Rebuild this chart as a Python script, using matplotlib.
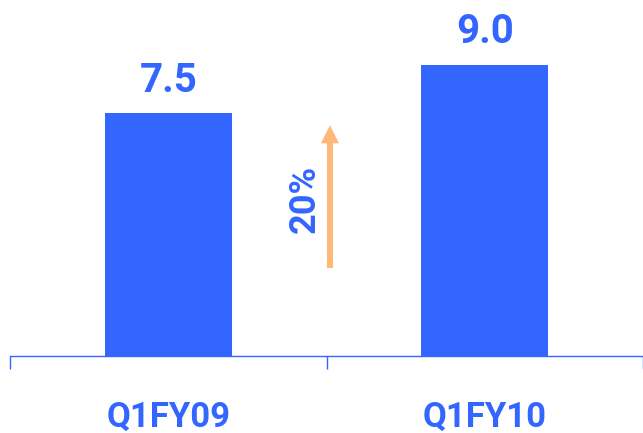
import matplotlib.pyplot as plt

quarters = ["Q1FY09", "Q1FY10"]
revenue = [7.5, 9.0]
growth_label = "20%"

blue = "#3366FF"
orange = "#FFB877"
font = "Roboto"

fig = plt.figure(figsize=(6.43, 4.33), dpi=100)
ax = fig.add_axes([10 / 643, 77 / 433, 633 / 643, 356 / 433])

x = range(len(quarters))
ax.bar(x, revenue, width=0.40, color=blue)

for i, v in zip(x, revenue):
    ax.text(i, v + 0.67, f"{v:.1f}", ha="center", va="baseline",
            fontsize=29, fontweight="bold", color=blue, family=font)

# category labels under the axis
for i, q in zip(x, quarters):
    ax.text(i, -2.19, q, ha="center", va="baseline", clip_on=False,
            fontsize=25, fontweight="bold", color=blue, family=font)

# growth arrow between the bars
ax.annotate("", xy=(0.511, 7.13), xytext=(0.511, 2.72),
            arrowprops=dict(width=4.3, headwidth=13, headlength=13,
                            color=orange, lw=0, shrinkA=0, shrinkB=0))
ax.text(0.464, 4.85, growth_label, rotation=90, rotation_mode="anchor",
        ha="center", va="baseline",
        fontsize=26, fontweight="bold", color=blue, family=font)

ax.set_xlim(-0.5, 1.5)
ax.set_ylim(0, 11)

for s in ["top", "left", "right"]:
    ax.spines[s].set_visible(False)
ax.spines["bottom"].set_color(blue)
ax.spines["bottom"].set_linewidth(1.0)

ax.set_yticks([])
ax.set_xticks([-0.5, 0.5, 1.5], labels=["", "", ""])
ax.tick_params(axis="x", length=9, width=1.0, color=blue, direction="out")

fig.savefig("out.png", dpi=100)
